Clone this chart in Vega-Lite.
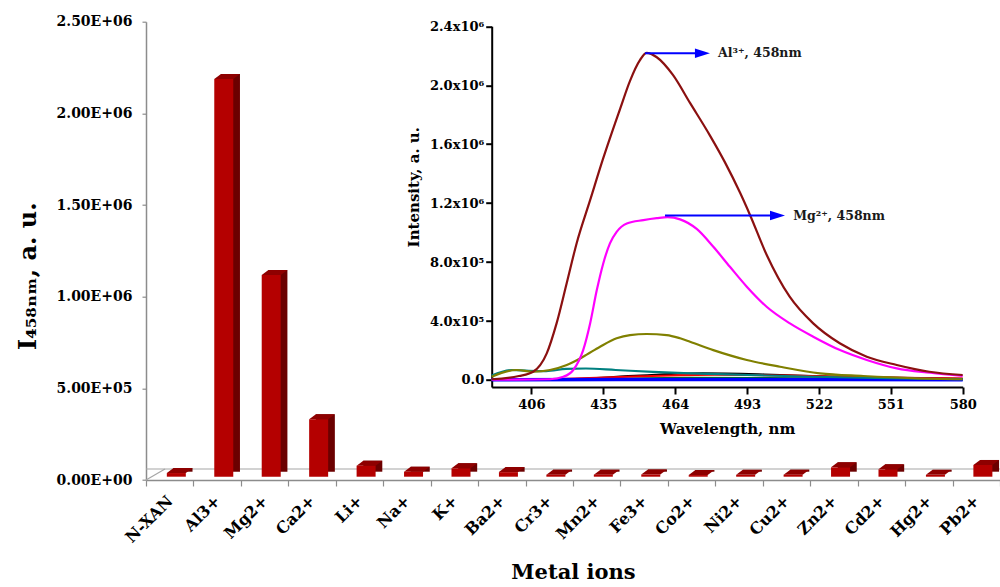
{
  "$schema": "https://vega.github.io/schema/vega-lite/v6.json",
  "width": 854,
  "height": 458.3,
  "autosize": "none",
  "padding": {"left": 146, "top": 21.7, "right": 0, "bottom": 107},
  "background": "white",
  "config": {
    "view": {"stroke": null},
    "font": "DejaVu Serif",
    "axis": {"grid": false, "labelColor": "#000000", "titleColor": "#000000", "labelFontWeight": "bold", "titleFontWeight": "bold", "labelFont": "DejaVu Serif", "titleFont": "DejaVu Serif"}
  },
  "datasets": {
    "bars": [
      {"ion": "N-XAN", "value": 20000},
      {"ion": "Al3+", "value": 2170000},
      {"ion": "Mg2+", "value": 1100000},
      {"ion": "Ca2+", "value": 313000},
      {"ion": "Li+", "value": 60000},
      {"ion": "Na+", "value": 27000},
      {"ion": "K+", "value": 46000},
      {"ion": "Ba2+", "value": 25000},
      {"ion": "Cr3+", "value": 11000},
      {"ion": "Mn2+", "value": 11000},
      {"ion": "Fe3+", "value": 12000},
      {"ion": "Co2+", "value": 9000},
      {"ion": "Ni2+", "value": 10000},
      {"ion": "Cu2+", "value": 11000},
      {"ion": "Zn2+", "value": 51000},
      {"ion": "Cd2+", "value": 40000},
      {"ion": "Hg2+", "value": 10000},
      {"ion": "Pb2+", "value": 64000}
    ],
    "minor": [
      {"ion": "Cu2+", "nm": 390, "I": 0}, {"ion": "Cu2+", "nm": 480, "I": 1000}, {"ion": "Cu2+", "nm": 580, "I": 0},
      {"ion": "Cd2+", "nm": 390, "I": 1000}, {"ion": "Cd2+", "nm": 430, "I": 4000}, {"ion": "Cd2+", "nm": 470, "I": 10000}, {"ion": "Cd2+", "nm": 520, "I": 8000}, {"ion": "Cd2+", "nm": 580, "I": 4000},
      {"ion": "Zn2+", "nm": 390, "I": 0}, {"ion": "Zn2+", "nm": 430, "I": 5000}, {"ion": "Zn2+", "nm": 470, "I": 15000}, {"ion": "Zn2+", "nm": 510, "I": 12000}, {"ion": "Zn2+", "nm": 580, "I": 6000},
      {"ion": "K+", "nm": 390, "I": 0}, {"ion": "K+", "nm": 420, "I": 5000}, {"ion": "K+", "nm": 450, "I": 30000}, {"ion": "K+", "nm": 475, "I": 45000}, {"ion": "K+", "nm": 500, "I": 38000}, {"ion": "K+", "nm": 530, "I": 22000}, {"ion": "K+", "nm": 580, "I": 8000},
      {"ion": "Pb2+", "nm": 390, "I": 0}, {"ion": "Pb2+", "nm": 420, "I": 8000}, {"ion": "Pb2+", "nm": 450, "I": 25000}, {"ion": "Pb2+", "nm": 480, "I": 35000}, {"ion": "Pb2+", "nm": 510, "I": 30000}, {"ion": "Pb2+", "nm": 540, "I": 18000}, {"ion": "Pb2+", "nm": 580, "I": 10000},
      {"ion": "Fe3+", "nm": 390, "I": 0}, {"ion": "Fe3+", "nm": 480, "I": 2000}, {"ion": "Fe3+", "nm": 580, "I": 1000},
      {"ion": "Na+", "nm": 390, "I": 3000}, {"ion": "Na+", "nm": 450, "I": 5000}, {"ion": "Na+", "nm": 510, "I": 4000}, {"ion": "Na+", "nm": 580, "I": 3000}
    ],
    "baseline": [
      {"ion": "Hg2+", "nm": 390, "I": 2000}, {"ion": "Hg2+", "nm": 440, "I": 3000}, {"ion": "Hg2+", "nm": 480, "I": 4000}, {"ion": "Hg2+", "nm": 530, "I": 3000}, {"ion": "Hg2+", "nm": 580, "I": 2000}
    ],
    "major": [
      {"ion": "Li+", "nm": 390, "I": 30000}, {"ion": "Li+", "nm": 398, "I": 68000}, {"ion": "Li+", "nm": 405, "I": 62000}, {"ion": "Li+", "nm": 412, "I": 60000}, {"ion": "Li+", "nm": 420, "I": 75000}, {"ion": "Li+", "nm": 428, "I": 78000}, {"ion": "Li+", "nm": 440, "I": 68000}, {"ion": "Li+", "nm": 455, "I": 55000}, {"ion": "Li+", "nm": 470, "I": 45000}, {"ion": "Li+", "nm": 493, "I": 34000}, {"ion": "Li+", "nm": 520, "I": 22000}, {"ion": "Li+", "nm": 550, "I": 12000}, {"ion": "Li+", "nm": 580, "I": 5000},
      {"ion": "Ca2+", "nm": 390, "I": 22000}, {"ion": "Ca2+", "nm": 400, "I": 68000}, {"ion": "Ca2+", "nm": 406.8, "I": 56000}, {"ion": "Ca2+", "nm": 413.5, "I": 68000}, {"ion": "Ca2+", "nm": 420.3, "I": 102000}, {"ion": "Ca2+", "nm": 426.9, "I": 158000}, {"ion": "Ca2+", "nm": 433.7, "I": 226000}, {"ion": "Ca2+", "nm": 440.4, "I": 283000}, {"ion": "Ca2+", "nm": 445.8, "I": 305000}, {"ion": "Ca2+", "nm": 452.5, "I": 312000}, {"ion": "Ca2+", "nm": 460.6, "I": 305000}, {"ion": "Ca2+", "nm": 466, "I": 283000}, {"ion": "Ca2+", "nm": 470, "I": 260000}, {"ion": "Ca2+", "nm": 479.4, "I": 203000}, {"ion": "Ca2+", "nm": 492.9, "I": 136000}, {"ion": "Ca2+", "nm": 506.3, "I": 90000}, {"ion": "Ca2+", "nm": 522.4, "I": 45000}, {"ion": "Ca2+", "nm": 539.9, "I": 27000}, {"ion": "Ca2+", "nm": 560, "I": 12000}, {"ion": "Ca2+", "nm": 580, "I": 5000},
      {"ion": "Mg2+", "nm": 390, "I": 2000}, {"ion": "Mg2+", "nm": 400, "I": 2000}, {"ion": "Mg2+", "nm": 413.5, "I": 5000}, {"ion": "Mg2+", "nm": 418.9, "I": 22000}, {"ion": "Mg2+", "nm": 422.9, "I": 68000}, {"ion": "Mg2+", "nm": 426.9, "I": 203000}, {"ion": "Mg2+", "nm": 429.7, "I": 384000}, {"ion": "Mg2+", "nm": 432.4, "I": 610000}, {"ion": "Mg2+", "nm": 435, "I": 791000}, {"ion": "Mg2+", "nm": 437.7, "I": 927000}, {"ion": "Mg2+", "nm": 440.4, "I": 1005000}, {"ion": "Mg2+", "nm": 444.5, "I": 1062000}, {"ion": "Mg2+", "nm": 451.2, "I": 1085000}, {"ion": "Mg2+", "nm": 456.6, "I": 1098000}, {"ion": "Mg2+", "nm": 461, "I": 1105000}, {"ion": "Mg2+", "nm": 466, "I": 1090000}, {"ion": "Mg2+", "nm": 472.7, "I": 1025000}, {"ion": "Mg2+", "nm": 479.4, "I": 904000}, {"ion": "Mg2+", "nm": 486.1, "I": 768000}, {"ion": "Mg2+", "nm": 492.9, "I": 633000}, {"ion": "Mg2+", "nm": 500.9, "I": 497000}, {"ion": "Mg2+", "nm": 510.3, "I": 384000}, {"ion": "Mg2+", "nm": 519.7, "I": 294000}, {"ion": "Mg2+", "nm": 530.5, "I": 203000}, {"ion": "Mg2+", "nm": 541.3, "I": 136000}, {"ion": "Mg2+", "nm": 553.4, "I": 79000}, {"ion": "Mg2+", "nm": 566.9, "I": 49000}, {"ion": "Mg2+", "nm": 580, "I": 27000},
      {"ion": "Al3+", "nm": 390, "I": 5000}, {"ion": "Al3+", "nm": 401, "I": 27000}, {"ion": "Al3+", "nm": 406.7, "I": 56000}, {"ion": "Al3+", "nm": 412.2, "I": 181000}, {"ion": "Al3+", "nm": 416.2, "I": 386000}, {"ion": "Al3+", "nm": 420.3, "I": 660000}, {"ion": "Al3+", "nm": 424.3, "I": 930000}, {"ion": "Al3+", "nm": 429.7, "I": 1220000}, {"ion": "Al3+", "nm": 434.9, "I": 1500000}, {"ion": "Al3+", "nm": 441.8, "I": 1840000}, {"ion": "Al3+", "nm": 445.8, "I": 2030000}, {"ion": "Al3+", "nm": 449.8, "I": 2170000}, {"ion": "Al3+", "nm": 452.5, "I": 2220000}, {"ion": "Al3+", "nm": 456.6, "I": 2190000}, {"ion": "Al3+", "nm": 463.1, "I": 2070000}, {"ion": "Al3+", "nm": 470, "I": 1880000}, {"ion": "Al3+", "nm": 478, "I": 1660000}, {"ion": "Al3+", "nm": 484, "I": 1480000}, {"ion": "Al3+", "nm": 490.2, "I": 1270000}, {"ion": "Al3+", "nm": 494.2, "I": 1120000}, {"ion": "Al3+", "nm": 500.9, "I": 850000}, {"ion": "Al3+", "nm": 510.2, "I": 565000}, {"ion": "Al3+", "nm": 519.7, "I": 384000}, {"ion": "Al3+", "nm": 530.4, "I": 249000}, {"ion": "Al3+", "nm": 541.3, "I": 158000}, {"ion": "Al3+", "nm": 553.4, "I": 102000}, {"ion": "Al3+", "nm": 566.5, "I": 56000}, {"ion": "Al3+", "nm": 580, "I": 34000}
    ],
    "notes": [
      {"label": "Al³⁺, 458nm", "x1": 451.8, "x2": 472.8, "tip": 475.0, "tx": 481.3, "I": 2217000},
      {"label": "Mg²⁺, 458nm", "x1": 459.9, "x2": 503.1, "tip": 505.3, "tx": 511.6, "I": 1116000}
    ]
  },
  "layer": [
    {
      "layer": [
        {
          "data": {"values": [{"edge": "back"}]},
          "mark": {"type": "rule", "color": "#A6A6A6", "strokeWidth": 1.2, "xOffset": 19, "yOffset": -11},
          "encoding": {"y": {"datum": 0}}
        },
        {
          "data": {"values": [{"edge": "left"}]},
          "mark": {"type": "point", "shape": "M -1 0.58 L 1 -0.58", "size": 361, "filled": false, "stroke": "#A6A6A6", "strokeWidth": 1.2, "opacity": 1, "xOffset": 9.5, "yOffset": -5.5},
          "encoding": {"x": {"datum": "N-XAN", "bandPosition": 0}, "y": {"datum": 0}}
        },
        {
          "data": {"name": "bars"},
          "mark": {"type": "bar", "color": "#6B0000", "width": 19, "xOffset": 13.3, "yOffset": -8.3},
          "encoding": {
            "x": {"field": "ion", "type": "nominal", "sort": null},
            "y": {"field": "value", "type": "quantitative"}
          }
        },
        {
          "data": {"name": "bars"},
          "mark": {"type": "point", "shape": "M -1 0.1946 L 0.4786 0.1946 L 1 -0.1946 L -0.4786 -0.1946 Z", "size": 660, "filled": true, "color": "#8E0000", "opacity": 1, "strokeWidth": 0, "xOffset": 9.95, "yOffset": -5.8},
          "encoding": {
            "x": {"field": "ion", "type": "nominal", "sort": null},
            "y": {"field": "value", "type": "quantitative"}
          }
        },
        {
          "data": {"name": "bars"},
          "mark": {"type": "bar", "color": "#B40000", "width": 19, "xOffset": 6.6, "yOffset": -3.3},
          "encoding": {
            "x": {
              "field": "ion", "type": "nominal", "sort": null,
              "scale": {"paddingInner": 0, "paddingOuter": 0},
              "axis": {
                "title": "Metal ions",
                "labelAngle": -45, "labelAlign": "right", "labelBaseline": "middle",
                "labelFontSize": 16, "labelPadding": 12, "labelOverlap": false,
                "tickBand": "extent", "tickSize": 6, "tickColor": "#8C8C8C", "tickWidth": 1.2,
                "domainColor": "#8C8C8C", "domainWidth": 1.5,
                "titleFontSize": 21, "titlePadding": 16
              }
            },
            "y": {
              "field": "value", "type": "quantitative",
              "scale": {"domain": [0, 2500000], "nice": false},
              "axis": {
                "title": "I₄₅₈ₙₘ, a. u.",
                "values": [0, 500000, 1000000, 1500000, 2000000, 2500000],
                "labelExpr": "datum.value == 0 ? '0.00E+00' : format(datum.value / pow(10, floor(log(datum.value) / LN10 + 1e-9)), '.2f') + 'E+' + format(floor(log(datum.value) / LN10 + 1e-9), '02d')",
                "labelFontSize": 14, "labelPadding": 10,
                "tickSize": 4, "tickColor": "#8C8C8C", "tickWidth": 1.2,
                "domainColor": "#8C8C8C", "domainWidth": 1.5,
                "titleFontSize": 24, "titleAngle": -90, "titleBaseline": "alphabetic",
                "titleX": -111, "titleY": 254
              }
            }
          }
        }
      ]
    },
    {
      "resolve": {"scale": {"color": "independent"}},
      "layer": [
        {
          "data": {"name": "minor"},
          "mark": {"type": "line", "strokeWidth": 2, "interpolate": "monotone"},
          "encoding": {
            "x": {
              "field": "nm", "type": "quantitative",
              "scale": {"domain": [390, 580], "range": [345.7, 816.7], "nice": false, "zero": false},
              "axis": {
                "orient": "bottom", "offset": -93,
                "values": [406, 435, 464, 493, 522, 551, 580],
                "title": "Wavelength, nm",
                "domainColor": "#000000", "domainWidth": 2,
                "tickColor": "#000000", "tickWidth": 2, "tickSize": 7,
                "labelFontSize": 13, "labelPadding": 4, "labelFlush": false,
                "titleFontSize": 15, "titlePadding": 10
              }
            },
            "y": {
              "field": "I", "type": "quantitative",
              "scale": {"domain": [-47500, 2400000], "range": [365.3, 4.6], "nice": false, "zero": false},
              "axis": {
                "orient": "left", "offset": -345.7,
                "values": [0, 400000, 800000, 1200000, 1600000, 2000000, 2400000],
                "labelExpr": "datum.value == 0 ? '0.0' : (datum.value < 1000000 ? format(datum.value / 100000, '.1f') + 'x10⁵' : format(datum.value / 1000000, '.1f') + 'x10⁶')",
                "title": "Intensity, a. u.",
                "domainColor": "#000000", "domainWidth": 2,
                "tickColor": "#000000", "tickWidth": 2, "tickSize": 6,
                "labelFontSize": 13, "labelPadding": 2,
                "titleFontSize": 15, "titlePadding": 8, "titleY": 165
              }
            },
            "color": {
              "field": "ion", "type": "nominal",
              "scale": {
                "domain": ["Cu2+", "Cd2+", "Zn2+", "K+", "Pb2+", "Fe3+", "Na+"],
                "range": ["#FF8C00", "#808080", "#008000", "#000000", "#FF0000", "#00A0FF", "#000080"]
              },
              "legend": null
            }
          }
        },
        {
          "data": {"name": "baseline"},
          "mark": {"type": "line", "strokeWidth": 3.5, "color": "#0000FF", "interpolate": "monotone"},
          "encoding": {
            "x": {"field": "nm", "type": "quantitative"},
            "y": {"field": "I", "type": "quantitative"}
          }
        },
        {
          "data": {"name": "major"},
          "mark": {"type": "line", "strokeWidth": 2.2, "interpolate": "monotone"},
          "encoding": {
            "x": {"field": "nm", "type": "quantitative"},
            "y": {"field": "I", "type": "quantitative"},
            "color": {
              "field": "ion", "type": "nominal",
              "scale": {
                "domain": ["Li+", "Ca2+", "Mg2+", "Al3+"],
                "range": ["#008080", "#808000", "#FF00FF", "#8B1010"]
              },
              "legend": null
            }
          }
        },
        {
          "data": {"name": "notes"},
          "mark": {"type": "rule", "color": "#0000FF", "strokeWidth": 2},
          "encoding": {
            "x": {"field": "x1", "type": "quantitative"},
            "x2": {"field": "x2"},
            "y": {"field": "I", "type": "quantitative"}
          }
        },
        {
          "data": {"name": "notes"},
          "mark": {"type": "point", "shape": "M -1 -0.64 L 1 0 L -1 0.64 Z", "size": 225, "filled": true, "color": "#0000FF", "opacity": 1, "strokeWidth": 0},
          "encoding": {
            "x": {"field": "tip", "type": "quantitative"},
            "y": {"field": "I", "type": "quantitative"}
          }
        },
        {
          "data": {"name": "notes"},
          "mark": {"type": "text", "align": "left", "baseline": "middle", "font": "DejaVu Serif", "fontWeight": "bold", "fontSize": 12.5, "color": "#1A1A1A"},
          "encoding": {
            "x": {"field": "tx", "type": "quantitative"},
            "y": {"field": "I", "type": "quantitative"},
            "text": {"field": "label"}
          }
        }
      ]
    }
  ],
  "resolve": {
    "scale": {"x": "independent", "y": "independent", "color": "independent"},
    "axis": {"x": "independent", "y": "independent"}
  }
}
